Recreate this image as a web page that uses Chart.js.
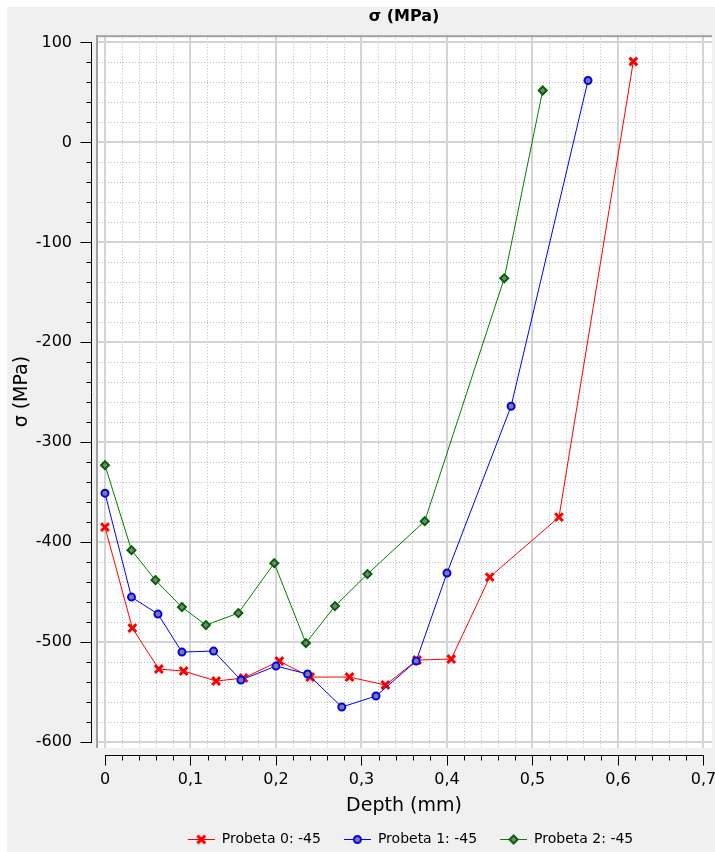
<!DOCTYPE html>
<html>
<head>
<meta charset="utf-8">
<script src="https://cdn.jsdelivr.net/npm/chart.js@4.4.0/dist/chart.umd.min.js"></script>
<style>
  html, body { margin: 0; padding: 0; background: #ffffff; }
  canvas { display: block; }
</style>
</head>
<body>
<canvas id="myChart" width="715" height="852"></canvas>
<script>
// values (depth in mm, sigma in MPa)
const seriesLabels = ['Probeta 0: -45', 'Probeta 1: -45', 'Probeta 2: -45'];

const depth0 = [0, 0.032, 0.063, 0.092, 0.130, 0.162, 0.204, 0.240, 0.286, 0.328, 0.365, 0.405, 0.450, 0.531, 0.618];
const sigma0 = [-385, -486, -527, -529, -539, -536, -519, -535, -535, -543, -518, -517, -435, -375, 81];

const depth1 = [0, 0.031, 0.062, 0.090, 0.127, 0.159, 0.200, 0.237, 0.277, 0.317, 0.364, 0.400, 0.475, 0.565];
const sigma1 = [-351, -455, -472, -510, -509, -538, -524, -532, -565, -554, -519, -431, -264, 62];

const depth2 = [0, 0.031, 0.059, 0.090, 0.118, 0.156, 0.198, 0.235, 0.269, 0.307, 0.374, 0.467, 0.512];
const sigma2 = [-323, -408, -438, -465, -483, -471, -421, -501, -464, -432, -379, -136, 52];

const xTickLabels = ['0', '0,1', '0,2', '0,3', '0,4', '0,5', '0,6', '0,7'];

// axis ranges (a little room around 0..0.7 and -600..100, like the original plot box)
const xMin = -0.0105, xMax = 0.71;
const yMin = -606, yMax = 107.3;

Chart.defaults.font.family = "'DejaVu Sans', sans-serif";
Chart.defaults.color = '#000000';

const isMajorX = v => Math.abs(v * 10 - Math.round(v * 10)) < 1e-6;
const isMajorY = v => Math.abs(v % 100) < 1e-6;

// small "line + marker" pictures for the legend
function legendIcon(lineColor, style, fill, stroke, radius, bw) {
  const c = document.createElement('canvas');
  c.width = 40;
  c.height = 14;
  const g = c.getContext('2d');
  g.strokeStyle = lineColor;
  g.lineWidth = 1;
  g.beginPath();
  g.moveTo(13, 7.5);
  g.lineTo(40, 7.5);
  g.stroke();
  g.fillStyle = fill;
  g.strokeStyle = stroke;
  g.lineWidth = bw;
  Chart.helpers.drawPoint(g, {pointStyle: style, radius: radius, borderWidth: bw, rotation: 0}, 26.5, 7.5);
  return c;
}
const legendIcons = [
  legendIcon('#ff0000', 'crossRot', 'rgba(0,0,0,0)', '#ff0000', 5.5, 3),
  legendIcon('#0000ff', 'circle', '#808080', '#0000ff', 3.5, 2),
  legendIcon('#008000', 'rectRot', '#808080', '#006400', 4, 2)
];

const plotBox = {
  id: 'plotBox',
  beforeDraw(chart) {
    const {ctx, chartArea: a, width, height} = chart;
    ctx.save();
    ctx.fillStyle = '#ffffff';
    ctx.fillRect(0, 0, width, height);
    ctx.fillStyle = '#f0f0f0';
    ctx.fillRect(7, 7, width - 7, height - 7);
    ctx.fillStyle = '#ffffff';
    ctx.fillRect(a.left, a.top, a.right - a.left, a.bottom - a.top);
    ctx.restore();
  },
  beforeDatasetsDraw(chart) {
    const {ctx, chartArea: a} = chart;
    ctx.save();
    ctx.fillStyle = '#a0a0a0';
    ctx.fillRect(a.left, a.top, a.right - a.left, 2);
    ctx.fillRect(a.left, a.top, 2, a.bottom - a.top);
    ctx.restore();
  }
};

// axis lines sit a few px outside the plot box, with long/short ticks
const axisLines = {
  id: 'axisLines',
  afterDraw(chart) {
    const {ctx, chartArea: a, scales} = chart;
    ctx.save();
    ctx.strokeStyle = '#000000';
    ctx.lineWidth = 1;
    ctx.beginPath();

    const ax = Math.round(a.left - 5) + 0.5;
    const yMaj = scales.y.ticks.map(t => Math.round(scales.y.getPixelForValue(t.value)) + 0.5);
    ctx.moveTo(ax, Math.min(...yMaj) - 0.5);
    ctx.lineTo(ax, Math.max(...yMaj) + 0.5);
    yMaj.forEach(p => { ctx.moveTo(ax - 11, p); ctx.lineTo(ax, p); });
    scales.yMinor.ticks.forEach(t => {
      const p = Math.round(scales.y.getPixelForValue(t.value)) + 0.5;
      ctx.moveTo(ax - 5, p);
      ctx.lineTo(ax, p);
    });

    const ay = Math.round(a.bottom + 7) + 0.5;
    const xMaj = scales.x.ticks.map(t => Math.round(scales.x.getPixelForValue(t.value)) + 0.5);
    ctx.moveTo(Math.min(...xMaj) - 0.5, ay);
    ctx.lineTo(Math.max(...xMaj) + 0.5, ay);
    xMaj.forEach(p => { ctx.moveTo(p, ay); ctx.lineTo(p, ay + 10); });
    scales.xMinor.ticks.forEach(t => {
      const p = Math.round(scales.x.getPixelForValue(t.value)) + 0.5;
      ctx.moveTo(p, ay);
      ctx.lineTo(p, ay + 5);
    });

    ctx.stroke();
    ctx.restore();
  }
};

const toPoints = (xs, ys) => xs.map((d, i) => ({x: d, y: ys[i]}));

const data = {
  datasets: [
    {
      label: seriesLabels[0],
      data: toPoints(depth0, sigma0),
      borderColor: '#ff0000',
      borderWidth: 1,
      pointStyle: 'crossRot',
      pointRadius: 5.5,
      pointBorderWidth: 3,
      pointBorderColor: '#ff0000',
      pointBackgroundColor: '#ff0000',
      tension: 0,
      fill: false,
      order: 3
    },
    {
      label: seriesLabels[1],
      data: toPoints(depth1, sigma1),
      borderColor: '#0000ff',
      borderWidth: 1,
      pointStyle: 'circle',
      pointRadius: 3.5,
      pointBorderWidth: 2,
      pointBorderColor: '#0000ff',
      pointBackgroundColor: '#808080',
      tension: 0,
      fill: false,
      order: 2
    },
    {
      label: seriesLabels[2],
      data: toPoints(depth2, sigma2),
      borderColor: '#008000',
      borderWidth: 1,
      pointStyle: 'rectRot',
      pointRadius: 4,
      pointBorderWidth: 2,
      pointBorderColor: '#006400',
      pointBackgroundColor: '#808080',
      tension: 0,
      fill: false,
      order: 1
    }
  ]
};

// no label overhang padding: the plot box runs right to the window edge
const noLabelPadding = s => { s.paddingLeft = 0; s.paddingRight = 0; s.paddingTop = 0; s.paddingBottom = 0; };

const config = {
  type: 'line',
  data: data,
  plugins: [plotBox, axisLines],
  options: {
    responsive: false,
    animation: false,
    layout: { autoPadding: false, padding: { left: 0, right: 3, top: 0, bottom: -4 } },
    plugins: {
      title: {
        display: true,
        fullSize: false,
        text: 'σ (MPa)',
        color: '#000000',
        font: { size: 16, weight: 'bold' },
        padding: { top: 7, bottom: 9 }
      },
      legend: {
        position: 'bottom',
        fullSize: false,
        labels: {
          usePointStyle: true,
          pointStyleWidth: 40,
          boxHeight: 14,
          padding: 10,
          color: '#000000',
          font: { size: 14 },
          generateLabels: chart => {
            const items = Chart.defaults.plugins.legend.labels.generateLabels(chart);
            items.sort((p, q) => p.datasetIndex - q.datasetIndex);
            items.forEach(it => { it.pointStyle = legendIcons[it.datasetIndex]; });
            return items;
          }
        }
      },
      tooltip: { enabled: false }
    },
    scales: {
      x: {
        type: 'linear',
        position: 'bottom',
        min: xMin,
        max: xMax,
        bounds: 'ticks',
        grid: { color: '#d4d4d4', lineWidth: 2, drawTicks: false },
        border: { display: false },
        ticks: {
          stepSize: 0.1,
          includeBounds: false,
          autoSkip: false,
          maxRotation: 0,
          padding: 22,
          color: '#000000',
          font: { size: 16 },
          callback: v => xTickLabels[Math.round(v * 10)]
        },
        title: {
          display: true,
          text: 'Depth (mm)',
          color: '#000000',
          font: { size: 19 },
          padding: { top: 0, bottom: 5 }
        },
        afterFit: s => { s.height = 74; noLabelPadding(s); }
      },
      xMinor: {
        type: 'linear',
        position: 'bottom',
        min: xMin,
        max: xMax,
        bounds: 'ticks',
        grid: { color: c => isMajorX(c.tick.value) ? 'rgba(0,0,0,0)' : '#bdbdbd', lineWidth: 1, drawTicks: false },
        border: { display: false, dash: [1, 2] },
        ticks: { display: false, stepSize: 0.02, includeBounds: false, autoSkip: false },
        afterFit: s => { s.height = 0; noLabelPadding(s); }
      },
      y: {
        type: 'linear',
        position: 'left',
        min: yMin,
        max: yMax,
        bounds: 'ticks',
        grid: { color: '#d4d4d4', lineWidth: 2, drawTicks: false },
        border: { display: false },
        ticks: {
          stepSize: 100,
          includeBounds: false,
          autoSkip: false,
          padding: 24,
          color: '#000000',
          font: { size: 16 }
        },
        title: {
          display: true,
          text: 'σ (MPa)',
          color: '#000000',
          font: { size: 19 },
          padding: { top: 11, bottom: 0 }
        },
        afterFit: s => { s.width = 96; noLabelPadding(s); }
      },
      yMinor: {
        type: 'linear',
        position: 'left',
        min: yMin,
        max: yMax,
        bounds: 'ticks',
        grid: { color: c => isMajorY(c.tick.value) ? 'rgba(0,0,0,0)' : '#bdbdbd', lineWidth: 1, drawTicks: false },
        border: { display: false, dash: [1, 2] },
        ticks: { display: false, stepSize: 20, includeBounds: false, autoSkip: false },
        afterFit: s => { s.width = 0; noLabelPadding(s); }
      }
    }
  }
};

new Chart(document.getElementById('myChart'), config);
</script>
</body>
</html>
